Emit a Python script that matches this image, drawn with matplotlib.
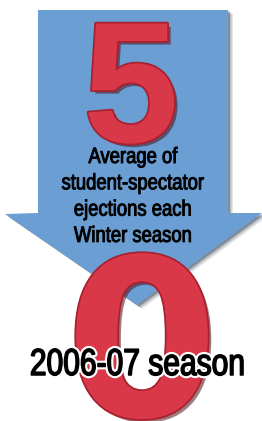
import matplotlib
matplotlib.use('Agg')
import matplotlib.pyplot as plt
from matplotlib.patches import Polygon
from matplotlib.transforms import Affine2D
from matplotlib.colors import to_rgba
import matplotlib.patheffects as pe

# arrow outline (pixel coords, y grows downward)
arrow_x = [38, 228, 228, 262, 137, 5, 38]
arrow_y = [10, 10, 213, 213, 305, 214, 213]

# numbers and words shown in the graphic
top_value = '5'
bottom_value = '0'
caption_lines = ['Average of', 'student-spectator', 'ejections each', 'Winter season']
season_label = '2006-07 season'

blue = '#6b9fd4'
red = '#d93848'


class Squeeze(pe.AbstractPathEffect):
    """Draw text glyphs narrowed horizontally (condensed look), with an outline."""

    def __init__(self, sx, cx, lw, fg):
        super().__init__()
        self.sx = sx
        self.cx = cx
        self.lw = lw
        self.fg = fg

    def draw_path(self, renderer, gc, tpath, affine, rgbFace=None):
        t = affine + Affine2D().translate(-self.cx, 0).scale(self.sx, 1).translate(self.cx, 0)
        gc0 = renderer.new_gc()
        gc0.copy_properties(gc)
        gc0.set_linewidth(self.lw)
        gc0.set_foreground(self.fg)
        gc0.set_joinstyle('round')
        renderer.draw_path(gc0, tpath, t, to_rgba(self.fg))
        gc0.restore()


fig = plt.figure(figsize=(2.62, 4.21), dpi=100)
ax = fig.add_axes([0, 0, 1, 1])
ax.set_xlim(0, 262)
ax.set_ylim(421, 0)
ax.axis('off')

pts = list(zip(arrow_x, arrow_y))
# soft shadow under the arrow
for off, a in [(5, 0.12), (3.5, 0.2), (2, 0.35)]:
    ax.add_patch(Polygon([(x + off, y + off * 0.8) for x, y in pts], closed=True,
                         facecolor='#1a2a40', edgecolor='none', alpha=a, zorder=1))
ax.add_patch(Polygon(pts, closed=True, facecolor=blue, edgecolor='none', zorder=2))

digit_fx = [pe.SimplePatchShadow(offset=(2.5, -2.5), shadow_rgbFace='#4a1018', alpha=0.55),
            pe.Stroke(linewidth=2.5, foreground='#a8202e'),
            pe.Normal()]

ax.text(131, 142, top_value, ha='center', va='baseline', fontsize=124,
        family=['Liberation Sans', 'DejaVu Sans'], fontweight='bold',
        color=red, zorder=3, path_effects=digit_fx)

cap_x = 133
cap_cx = ax.transData.transform((cap_x, 0))[0]
for i, line in enumerate(caption_lines):
    ax.text(cap_x, 163 + i * 26.3, line, ha='center', va='baseline', fontsize=16,
            family=['Liberation Sans', 'DejaVu Sans'], color='black', zorder=4,
            path_effects=[Squeeze(0.83, cap_cx, 0.7, 'black')])

ax.text(142, 416, bottom_value, ha='center', va='baseline', fontsize=158,
        family=['DejaVu Sans'], fontweight='bold',
        color=red, zorder=5, path_effects=digit_fx)

lab_x = 137.5
lab_cx = ax.transData.transform((lab_x, 0))[0]
ax.text(lab_x, 375, season_label, ha='center', va='baseline', fontsize=27,
        family=['Liberation Sans', 'DejaVu Sans'], color='black', zorder=6,
        path_effects=[Squeeze(0.8, lab_cx, 4.2, 'white'),
                      Squeeze(0.8, lab_cx, 1.1, 'black')])

fig.savefig('out.png', dpi=100)
